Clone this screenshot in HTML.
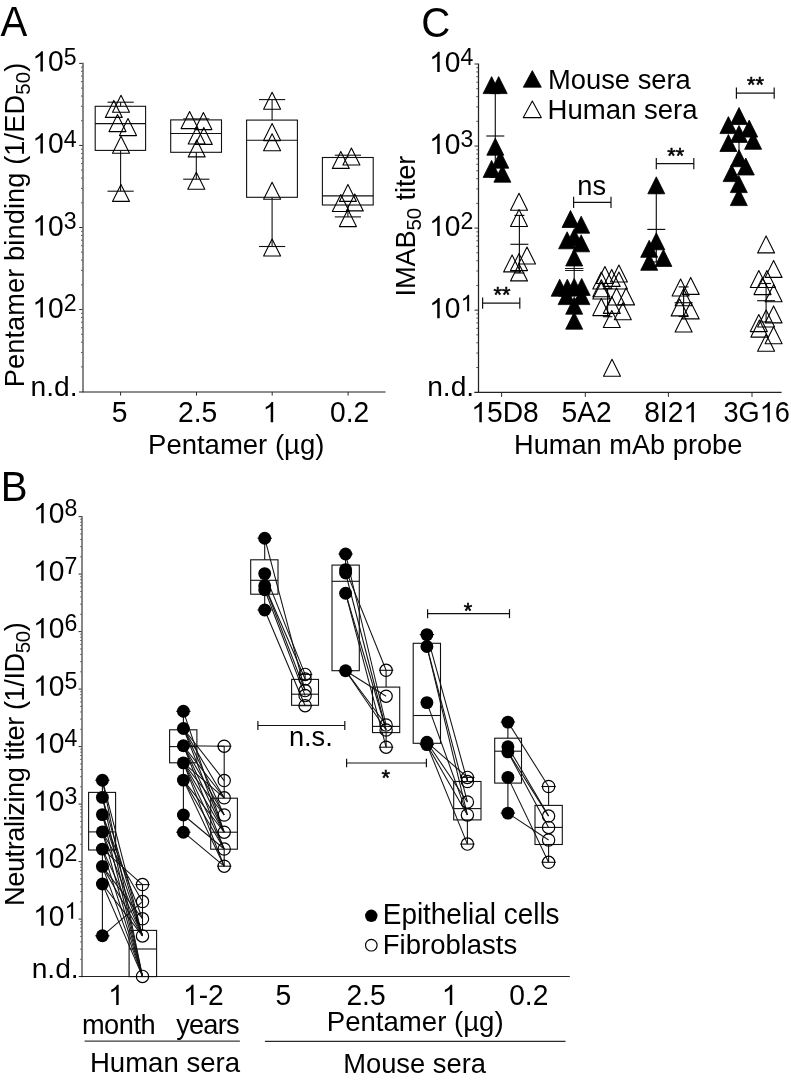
<!DOCTYPE html>
<html><head><meta charset="utf-8"><title>Figure</title>
<style>
html,body{margin:0;padding:0;background:#fff;}
body{width:791px;height:1082px;overflow:hidden;font-family:"Liberation Sans",sans-serif;}
svg{display:block;filter:grayscale(1);will-change:transform;transform:translateZ(0);}
svg text{font-family:"Liberation Sans",sans-serif;fill:#000;}
</style></head><body>
<svg width="791" height="1082" viewBox="0 0 791 1082">
<rect x="0" y="0" width="791" height="1082" fill="#fff"/>
<g id="panelA">
<text transform="translate(0.60,36.40) scale(1,1.04)" font-size="40.2" text-anchor="start" >A</text>
<line x1="83.00" y1="62.80" x2="83.00" y2="392.20" stroke="#1c1c1c" stroke-width="1.05"/>
<line x1="79.20" y1="63.40" x2="82.50" y2="63.40" stroke="#2a2a2a" stroke-width="1.0"/>
<line x1="79.20" y1="145.45" x2="82.50" y2="145.45" stroke="#2a2a2a" stroke-width="1.0"/>
<line x1="81.00" y1="120.75" x2="82.50" y2="120.75" stroke="#3a3a3a" stroke-width="0.85"/>
<line x1="81.00" y1="106.30" x2="82.50" y2="106.30" stroke="#3a3a3a" stroke-width="0.85"/>
<line x1="81.00" y1="96.05" x2="82.50" y2="96.05" stroke="#3a3a3a" stroke-width="0.85"/>
<line x1="81.00" y1="88.10" x2="82.50" y2="88.10" stroke="#3a3a3a" stroke-width="0.85"/>
<line x1="81.00" y1="81.60" x2="82.50" y2="81.60" stroke="#3a3a3a" stroke-width="0.85"/>
<line x1="81.00" y1="76.11" x2="82.50" y2="76.11" stroke="#3a3a3a" stroke-width="0.85"/>
<line x1="81.00" y1="71.35" x2="82.50" y2="71.35" stroke="#3a3a3a" stroke-width="0.85"/>
<line x1="81.00" y1="67.15" x2="82.50" y2="67.15" stroke="#3a3a3a" stroke-width="0.85"/>
<line x1="79.20" y1="227.50" x2="82.50" y2="227.50" stroke="#2a2a2a" stroke-width="1.0"/>
<line x1="81.00" y1="202.80" x2="82.50" y2="202.80" stroke="#3a3a3a" stroke-width="0.85"/>
<line x1="81.00" y1="188.35" x2="82.50" y2="188.35" stroke="#3a3a3a" stroke-width="0.85"/>
<line x1="81.00" y1="178.10" x2="82.50" y2="178.10" stroke="#3a3a3a" stroke-width="0.85"/>
<line x1="81.00" y1="170.15" x2="82.50" y2="170.15" stroke="#3a3a3a" stroke-width="0.85"/>
<line x1="81.00" y1="163.65" x2="82.50" y2="163.65" stroke="#3a3a3a" stroke-width="0.85"/>
<line x1="81.00" y1="158.16" x2="82.50" y2="158.16" stroke="#3a3a3a" stroke-width="0.85"/>
<line x1="81.00" y1="153.40" x2="82.50" y2="153.40" stroke="#3a3a3a" stroke-width="0.85"/>
<line x1="81.00" y1="149.20" x2="82.50" y2="149.20" stroke="#3a3a3a" stroke-width="0.85"/>
<line x1="79.20" y1="309.55" x2="82.50" y2="309.55" stroke="#2a2a2a" stroke-width="1.0"/>
<line x1="81.00" y1="284.85" x2="82.50" y2="284.85" stroke="#3a3a3a" stroke-width="0.85"/>
<line x1="81.00" y1="270.40" x2="82.50" y2="270.40" stroke="#3a3a3a" stroke-width="0.85"/>
<line x1="81.00" y1="260.15" x2="82.50" y2="260.15" stroke="#3a3a3a" stroke-width="0.85"/>
<line x1="81.00" y1="252.20" x2="82.50" y2="252.20" stroke="#3a3a3a" stroke-width="0.85"/>
<line x1="81.00" y1="245.70" x2="82.50" y2="245.70" stroke="#3a3a3a" stroke-width="0.85"/>
<line x1="81.00" y1="240.21" x2="82.50" y2="240.21" stroke="#3a3a3a" stroke-width="0.85"/>
<line x1="81.00" y1="235.45" x2="82.50" y2="235.45" stroke="#3a3a3a" stroke-width="0.85"/>
<line x1="81.00" y1="231.25" x2="82.50" y2="231.25" stroke="#3a3a3a" stroke-width="0.85"/>
<line x1="81.00" y1="366.90" x2="82.50" y2="366.90" stroke="#3a3a3a" stroke-width="0.85"/>
<line x1="81.00" y1="352.45" x2="82.50" y2="352.45" stroke="#3a3a3a" stroke-width="0.85"/>
<line x1="81.00" y1="342.20" x2="82.50" y2="342.20" stroke="#3a3a3a" stroke-width="0.85"/>
<line x1="81.00" y1="334.25" x2="82.50" y2="334.25" stroke="#3a3a3a" stroke-width="0.85"/>
<line x1="81.00" y1="327.75" x2="82.50" y2="327.75" stroke="#3a3a3a" stroke-width="0.85"/>
<line x1="81.00" y1="322.26" x2="82.50" y2="322.26" stroke="#3a3a3a" stroke-width="0.85"/>
<line x1="81.00" y1="317.50" x2="82.50" y2="317.50" stroke="#3a3a3a" stroke-width="0.85"/>
<line x1="81.00" y1="313.30" x2="82.50" y2="313.30" stroke="#3a3a3a" stroke-width="0.85"/>
<line x1="79.00" y1="392.00" x2="385.50" y2="392.00" stroke="#1c1c1c" stroke-width="1.05"/>
<path transform="translate(32.39,71.40) scale(0.01377,-0.01377)" d="M763 0H583V1147Q518 1085 412.5 1023T223 930V1104Q374 1175 487 1276T647 1472H763Z" fill="#000"/>
<text transform="translate(48.07,71.40) scale(1,1.04)" font-size="28.2" style="font-kerning:none">0</text>
<text transform="translate(63.75,64.54) scale(1,1.04)" font-size="23.1" style="font-kerning:none">5</text>
<path transform="translate(32.39,153.45) scale(0.01377,-0.01377)" d="M763 0H583V1147Q518 1085 412.5 1023T223 930V1104Q374 1175 487 1276T647 1472H763Z" fill="#000"/>
<text transform="translate(48.07,153.45) scale(1,1.04)" font-size="28.2" style="font-kerning:none">0</text>
<text transform="translate(63.75,146.59) scale(1,1.04)" font-size="23.1" style="font-kerning:none">4</text>
<path transform="translate(32.39,235.50) scale(0.01377,-0.01377)" d="M763 0H583V1147Q518 1085 412.5 1023T223 930V1104Q374 1175 487 1276T647 1472H763Z" fill="#000"/>
<text transform="translate(48.07,235.50) scale(1,1.04)" font-size="28.2" style="font-kerning:none">0</text>
<text transform="translate(63.75,228.64) scale(1,1.04)" font-size="23.1" style="font-kerning:none">3</text>
<path transform="translate(32.39,317.55) scale(0.01377,-0.01377)" d="M763 0H583V1147Q518 1085 412.5 1023T223 930V1104Q374 1175 487 1276T647 1472H763Z" fill="#000"/>
<text transform="translate(48.07,317.55) scale(1,1.04)" font-size="28.2" style="font-kerning:none">0</text>
<text transform="translate(63.75,310.69) scale(1,1.04)" font-size="23.1" style="font-kerning:none">2</text>
<text transform="translate(77.50,395.70) scale(1,1.0)" font-size="28.2" text-anchor="end" >n.d.</text>
<line x1="120.60" y1="392.00" x2="120.60" y2="395.60" stroke="#2a2a2a" stroke-width="1.0"/>
<text transform="translate(111.86,422.20) scale(1,1.04)" font-size="28.2" style="font-kerning:none">5</text>
<line x1="196.50" y1="392.00" x2="196.50" y2="395.60" stroke="#2a2a2a" stroke-width="1.0"/>
<text transform="translate(178.10,422.20) scale(1,1.04)" font-size="28.2" style="font-kerning:none">2.5</text>
<line x1="272.20" y1="392.00" x2="272.20" y2="395.60" stroke="#2a2a2a" stroke-width="1.0"/>
<path transform="translate(262.66,422.20) scale(0.01377,-0.01377)" d="M763 0H583V1147Q518 1085 412.5 1023T223 930V1104Q374 1175 487 1276T647 1472H763Z" fill="#000"/>
<line x1="348.10" y1="392.00" x2="348.10" y2="395.60" stroke="#2a2a2a" stroke-width="1.0"/>
<text transform="translate(330.10,422.20) scale(1,1.04)" font-size="28.2" style="font-kerning:none">0.2</text>
<text transform="translate(236.20,454.40) scale(1,1.03)" font-size="27.5" text-anchor="middle" >Pentamer (µg)</text>
<text transform="translate(24.0,387.3) rotate(-90)" font-size="27.2" textLength="324.6" lengthAdjust="spacing">Pentamer binding (1/ED<tspan font-size="20.5" dy="5.5">50</tspan><tspan dy="-5.5">)</tspan></text>
<rect x="95.20" y="106.30" width="50.40" height="44.10" fill="none" stroke="#111" stroke-width="1.1"/>
<line x1="95.20" y1="123.60" x2="145.60" y2="123.60" stroke="#111" stroke-width="1.1"/>
<line x1="120.60" y1="102.20" x2="120.60" y2="106.30" stroke="#111" stroke-width="1.1"/>
<line x1="120.60" y1="150.40" x2="120.60" y2="191.20" stroke="#111" stroke-width="1.1"/>
<line x1="107.50" y1="102.20" x2="133.70" y2="102.20" stroke="#111" stroke-width="1.1"/>
<line x1="107.50" y1="191.20" x2="133.70" y2="191.20" stroke="#111" stroke-width="1.1"/>
<rect x="170.70" y="119.90" width="50.80" height="32.40" fill="none" stroke="#111" stroke-width="1.1"/>
<line x1="170.70" y1="133.50" x2="221.50" y2="133.50" stroke="#111" stroke-width="1.1"/>
<line x1="196.30" y1="118.90" x2="196.30" y2="119.90" stroke="#111" stroke-width="1.1"/>
<line x1="196.30" y1="152.30" x2="196.30" y2="179.20" stroke="#111" stroke-width="1.1"/>
<line x1="183.20" y1="118.90" x2="209.40" y2="118.90" stroke="#111" stroke-width="1.1"/>
<line x1="183.20" y1="179.20" x2="209.40" y2="179.20" stroke="#111" stroke-width="1.1"/>
<rect x="246.60" y="120.10" width="50.80" height="77.20" fill="none" stroke="#111" stroke-width="1.1"/>
<line x1="246.60" y1="140.30" x2="297.40" y2="140.30" stroke="#111" stroke-width="1.1"/>
<line x1="272.10" y1="99.60" x2="272.10" y2="120.10" stroke="#111" stroke-width="1.1"/>
<line x1="272.10" y1="197.30" x2="272.10" y2="246.50" stroke="#111" stroke-width="1.1"/>
<line x1="259.00" y1="99.60" x2="285.20" y2="99.60" stroke="#111" stroke-width="1.1"/>
<line x1="259.00" y1="246.50" x2="285.20" y2="246.50" stroke="#111" stroke-width="1.1"/>
<rect x="322.40" y="157.50" width="50.80" height="47.50" fill="none" stroke="#111" stroke-width="1.1"/>
<line x1="322.40" y1="195.90" x2="373.20" y2="195.90" stroke="#111" stroke-width="1.1"/>
<line x1="347.90" y1="155.20" x2="347.90" y2="157.50" stroke="#111" stroke-width="1.1"/>
<line x1="347.90" y1="205.00" x2="347.90" y2="216.90" stroke="#111" stroke-width="1.1"/>
<line x1="334.80" y1="155.20" x2="361.00" y2="155.20" stroke="#111" stroke-width="1.1"/>
<line x1="334.80" y1="216.90" x2="361.00" y2="216.90" stroke="#111" stroke-width="1.1"/>
<polygon points="121.00,95.30 129.50,112.30 112.50,112.30" fill="none" stroke="#000" stroke-width="1.08" stroke-linejoin="round"/>
<polygon points="113.80,100.40 122.30,117.40 105.30,117.40" fill="none" stroke="#000" stroke-width="1.08" stroke-linejoin="round"/>
<polygon points="117.50,114.60 126.00,131.60 109.00,131.60" fill="none" stroke="#000" stroke-width="1.08" stroke-linejoin="round"/>
<polygon points="128.00,118.60 136.50,135.60 119.50,135.60" fill="none" stroke="#000" stroke-width="1.08" stroke-linejoin="round"/>
<polygon points="121.00,136.30 129.50,153.30 112.50,153.30" fill="none" stroke="#000" stroke-width="1.08" stroke-linejoin="round"/>
<polygon points="121.00,184.40 129.50,201.40 112.50,201.40" fill="none" stroke="#000" stroke-width="1.08" stroke-linejoin="round"/>
<polygon points="189.60,111.60 198.10,128.60 181.10,128.60" fill="none" stroke="#000" stroke-width="1.08" stroke-linejoin="round"/>
<polygon points="203.40,112.60 211.90,129.60 194.90,129.60" fill="none" stroke="#000" stroke-width="1.08" stroke-linejoin="round"/>
<polygon points="196.70,127.00 205.20,144.00 188.20,144.00" fill="none" stroke="#000" stroke-width="1.08" stroke-linejoin="round"/>
<polygon points="203.80,127.40 212.30,144.40 195.30,144.40" fill="none" stroke="#000" stroke-width="1.08" stroke-linejoin="round"/>
<polygon points="196.70,139.90 205.20,156.90 188.20,156.90" fill="none" stroke="#000" stroke-width="1.08" stroke-linejoin="round"/>
<polygon points="196.30,172.20 204.80,189.20 187.80,189.20" fill="none" stroke="#000" stroke-width="1.08" stroke-linejoin="round"/>
<polygon points="272.10,92.30 280.60,109.30 263.60,109.30" fill="none" stroke="#000" stroke-width="1.08" stroke-linejoin="round"/>
<polygon points="272.10,123.60 280.60,140.60 263.60,140.60" fill="none" stroke="#000" stroke-width="1.08" stroke-linejoin="round"/>
<polygon points="272.10,133.80 280.60,150.80 263.60,150.80" fill="none" stroke="#000" stroke-width="1.08" stroke-linejoin="round"/>
<polygon points="272.10,182.30 280.60,199.30 263.60,199.30" fill="none" stroke="#000" stroke-width="1.08" stroke-linejoin="round"/>
<polygon points="272.10,239.00 280.60,256.00 263.60,256.00" fill="none" stroke="#000" stroke-width="1.08" stroke-linejoin="round"/>
<polygon points="340.80,151.40 349.30,168.40 332.30,168.40" fill="none" stroke="#000" stroke-width="1.08" stroke-linejoin="round"/>
<polygon points="351.40,148.00 359.90,165.00 342.90,165.00" fill="none" stroke="#000" stroke-width="1.08" stroke-linejoin="round"/>
<polygon points="347.90,184.40 356.40,201.40 339.40,201.40" fill="none" stroke="#000" stroke-width="1.08" stroke-linejoin="round"/>
<polygon points="340.80,194.50 349.30,211.50 332.30,211.50" fill="none" stroke="#000" stroke-width="1.08" stroke-linejoin="round"/>
<polygon points="354.80,193.90 363.30,210.90 346.30,210.90" fill="none" stroke="#000" stroke-width="1.08" stroke-linejoin="round"/>
<polygon points="347.90,209.60 356.40,226.60 339.40,226.60" fill="none" stroke="#000" stroke-width="1.08" stroke-linejoin="round"/>
</g>
<g id="panelC">
<text transform="translate(421.20,37.40) scale(1,1.04)" font-size="40.2" text-anchor="start" >C</text>
<line x1="478.50" y1="63.40" x2="478.50" y2="392.80" stroke="#222" stroke-width="1.25"/>
<line x1="474.50" y1="64.00" x2="478.00" y2="64.00" stroke="#2a2a2a" stroke-width="1.0"/>
<line x1="474.50" y1="146.05" x2="478.00" y2="146.05" stroke="#2a2a2a" stroke-width="1.0"/>
<line x1="476.30" y1="121.35" x2="478.00" y2="121.35" stroke="#3a3a3a" stroke-width="0.85"/>
<line x1="476.30" y1="106.90" x2="478.00" y2="106.90" stroke="#3a3a3a" stroke-width="0.85"/>
<line x1="476.30" y1="96.65" x2="478.00" y2="96.65" stroke="#3a3a3a" stroke-width="0.85"/>
<line x1="476.30" y1="88.70" x2="478.00" y2="88.70" stroke="#3a3a3a" stroke-width="0.85"/>
<line x1="476.30" y1="82.20" x2="478.00" y2="82.20" stroke="#3a3a3a" stroke-width="0.85"/>
<line x1="476.30" y1="76.71" x2="478.00" y2="76.71" stroke="#3a3a3a" stroke-width="0.85"/>
<line x1="476.30" y1="71.95" x2="478.00" y2="71.95" stroke="#3a3a3a" stroke-width="0.85"/>
<line x1="476.30" y1="67.75" x2="478.00" y2="67.75" stroke="#3a3a3a" stroke-width="0.85"/>
<line x1="474.50" y1="228.10" x2="478.00" y2="228.10" stroke="#2a2a2a" stroke-width="1.0"/>
<line x1="476.30" y1="203.40" x2="478.00" y2="203.40" stroke="#3a3a3a" stroke-width="0.85"/>
<line x1="476.30" y1="188.95" x2="478.00" y2="188.95" stroke="#3a3a3a" stroke-width="0.85"/>
<line x1="476.30" y1="178.70" x2="478.00" y2="178.70" stroke="#3a3a3a" stroke-width="0.85"/>
<line x1="476.30" y1="170.75" x2="478.00" y2="170.75" stroke="#3a3a3a" stroke-width="0.85"/>
<line x1="476.30" y1="164.25" x2="478.00" y2="164.25" stroke="#3a3a3a" stroke-width="0.85"/>
<line x1="476.30" y1="158.76" x2="478.00" y2="158.76" stroke="#3a3a3a" stroke-width="0.85"/>
<line x1="476.30" y1="154.00" x2="478.00" y2="154.00" stroke="#3a3a3a" stroke-width="0.85"/>
<line x1="476.30" y1="149.80" x2="478.00" y2="149.80" stroke="#3a3a3a" stroke-width="0.85"/>
<line x1="474.50" y1="310.15" x2="478.00" y2="310.15" stroke="#2a2a2a" stroke-width="1.0"/>
<line x1="476.30" y1="285.45" x2="478.00" y2="285.45" stroke="#3a3a3a" stroke-width="0.85"/>
<line x1="476.30" y1="271.00" x2="478.00" y2="271.00" stroke="#3a3a3a" stroke-width="0.85"/>
<line x1="476.30" y1="260.75" x2="478.00" y2="260.75" stroke="#3a3a3a" stroke-width="0.85"/>
<line x1="476.30" y1="252.80" x2="478.00" y2="252.80" stroke="#3a3a3a" stroke-width="0.85"/>
<line x1="476.30" y1="246.30" x2="478.00" y2="246.30" stroke="#3a3a3a" stroke-width="0.85"/>
<line x1="476.30" y1="240.81" x2="478.00" y2="240.81" stroke="#3a3a3a" stroke-width="0.85"/>
<line x1="476.30" y1="236.05" x2="478.00" y2="236.05" stroke="#3a3a3a" stroke-width="0.85"/>
<line x1="476.30" y1="231.85" x2="478.00" y2="231.85" stroke="#3a3a3a" stroke-width="0.85"/>
<line x1="476.30" y1="367.50" x2="478.00" y2="367.50" stroke="#3a3a3a" stroke-width="0.85"/>
<line x1="476.30" y1="353.05" x2="478.00" y2="353.05" stroke="#3a3a3a" stroke-width="0.85"/>
<line x1="476.30" y1="342.80" x2="478.00" y2="342.80" stroke="#3a3a3a" stroke-width="0.85"/>
<line x1="476.30" y1="334.85" x2="478.00" y2="334.85" stroke="#3a3a3a" stroke-width="0.85"/>
<line x1="476.30" y1="328.35" x2="478.00" y2="328.35" stroke="#3a3a3a" stroke-width="0.85"/>
<line x1="476.30" y1="322.86" x2="478.00" y2="322.86" stroke="#3a3a3a" stroke-width="0.85"/>
<line x1="476.30" y1="318.10" x2="478.00" y2="318.10" stroke="#3a3a3a" stroke-width="0.85"/>
<line x1="476.30" y1="313.90" x2="478.00" y2="313.90" stroke="#3a3a3a" stroke-width="0.85"/>
<line x1="474.30" y1="392.45" x2="781.60" y2="392.45" stroke="#222" stroke-width="1.2"/>
<path transform="translate(429.19,72.00) scale(0.01377,-0.01377)" d="M763 0H583V1147Q518 1085 412.5 1023T223 930V1104Q374 1175 487 1276T647 1472H763Z" fill="#000"/>
<text transform="translate(444.87,72.00) scale(1,1.04)" font-size="28.2" style="font-kerning:none">0</text>
<text transform="translate(460.55,65.14) scale(1,1.04)" font-size="23.1" style="font-kerning:none">4</text>
<path transform="translate(429.19,154.05) scale(0.01377,-0.01377)" d="M763 0H583V1147Q518 1085 412.5 1023T223 930V1104Q374 1175 487 1276T647 1472H763Z" fill="#000"/>
<text transform="translate(444.87,154.05) scale(1,1.04)" font-size="28.2" style="font-kerning:none">0</text>
<text transform="translate(460.55,147.19) scale(1,1.04)" font-size="23.1" style="font-kerning:none">3</text>
<path transform="translate(429.19,236.10) scale(0.01377,-0.01377)" d="M763 0H583V1147Q518 1085 412.5 1023T223 930V1104Q374 1175 487 1276T647 1472H763Z" fill="#000"/>
<text transform="translate(444.87,236.10) scale(1,1.04)" font-size="28.2" style="font-kerning:none">0</text>
<text transform="translate(460.55,229.24) scale(1,1.04)" font-size="23.1" style="font-kerning:none">2</text>
<path transform="translate(429.19,318.15) scale(0.01377,-0.01377)" d="M763 0H583V1147Q518 1085 412.5 1023T223 930V1104Q374 1175 487 1276T647 1472H763Z" fill="#000"/>
<text transform="translate(444.87,318.15) scale(1,1.04)" font-size="28.2" style="font-kerning:none">0</text>
<path transform="translate(460.55,311.29) scale(0.01128,-0.01128)" d="M763 0H583V1147Q518 1085 412.5 1023T223 930V1104Q374 1175 487 1276T647 1472H763Z" fill="#000"/>
<text transform="translate(474.20,396.00) scale(1,1.0)" font-size="28.2" text-anchor="end" >n.d.</text>
<line x1="501.60" y1="392.40" x2="501.60" y2="396.90" stroke="#2a2a2a" stroke-width="1.0"/>
<line x1="585.30" y1="392.40" x2="585.30" y2="396.90" stroke="#2a2a2a" stroke-width="1.0"/>
<line x1="668.40" y1="392.40" x2="668.40" y2="396.90" stroke="#2a2a2a" stroke-width="1.0"/>
<line x1="752.00" y1="392.40" x2="752.00" y2="396.90" stroke="#2a2a2a" stroke-width="1.0"/>
<path transform="translate(471.29,422.20) scale(0.01377,-0.01377)" d="M763 0H583V1147Q518 1085 412.5 1023T223 930V1104Q374 1175 487 1276T647 1472H763Z" fill="#000"/>
<text transform="translate(486.98,422.20) scale(1,1.04)" font-size="28.2" style="font-kerning:none">5D8</text>
<text transform="translate(561.51,422.20) scale(1,1.04)" font-size="28.2" style="font-kerning:none">5A2</text>
<text transform="translate(644.16,422.20) scale(1,1.04)" font-size="28.2" style="font-kerning:none">8I2</text>
<path transform="translate(683.36,422.20) scale(0.01377,-0.01377)" d="M763 0H583V1147Q518 1085 412.5 1023T223 930V1104Q374 1175 487 1276T647 1472H763Z" fill="#000"/>
<g transform="translate(723.50,0) scale(0.963,1) translate(-723.50,0)">
<text transform="translate(723.50,422.20) scale(1,1.04)" font-size="28.2" style="font-kerning:none">3G</text>
<path transform="translate(761.12,422.20) scale(0.01377,-0.01377)" d="M763 0H583V1147Q518 1085 412.5 1023T223 930V1104Q374 1175 487 1276T647 1472H763Z" fill="#000"/>
<text transform="translate(776.80,422.20) scale(1,1.04)" font-size="28.2" style="font-kerning:none">6</text>
</g>
<text transform="translate(628.20,454.00) scale(1,1.03)" font-size="27.2" text-anchor="middle" >Human mAb probe</text>
<text transform="translate(415.1,296.4) rotate(-90)" font-size="27.2" textLength="140.8" lengthAdjust="spacing">IMAB<tspan font-size="20.5" dy="5.5">50</tspan><tspan dy="-5.5"> titer</tspan></text>
<polygon points="532.30,70.60 541.30,87.20 523.30,87.20" fill="#000" stroke="#000" stroke-width="0.8" stroke-linejoin="miter"/>
<polygon points="532.30,101.00 541.30,117.60 523.30,117.60" fill="none" stroke="#000" stroke-width="1.08" stroke-linejoin="round"/>
<text transform="translate(548.00,89.20) scale(1,1.03)" font-size="27.35" text-anchor="start" >Mouse sera</text>
<text transform="translate(547.60,118.50) scale(1,1.03)" font-size="27.55" text-anchor="start" >Human sera</text>
<line x1="482.60" y1="303.05" x2="519.80" y2="303.05" stroke="#111" stroke-width="1.2"/>
<line x1="482.60" y1="297.45" x2="482.60" y2="308.65" stroke="#111" stroke-width="1.2"/>
<line x1="519.80" y1="297.45" x2="519.80" y2="308.65" stroke="#111" stroke-width="1.2"/>
<text x="501.90" y="301.50" font-size="21.8" text-anchor="middle" stroke="#000" stroke-width="0.55">**</text>
<line x1="573.60" y1="202.30" x2="611.00" y2="202.30" stroke="#111" stroke-width="1.2"/>
<line x1="573.60" y1="196.70" x2="573.60" y2="207.90" stroke="#111" stroke-width="1.2"/>
<line x1="611.00" y1="196.70" x2="611.00" y2="207.90" stroke="#111" stroke-width="1.2"/>
<text transform="translate(591.70,194.50) scale(1,1.0)" font-size="27.2" text-anchor="middle" >ns</text>
<line x1="656.30" y1="163.70" x2="693.80" y2="163.70" stroke="#111" stroke-width="1.2"/>
<line x1="656.30" y1="158.10" x2="656.30" y2="169.30" stroke="#111" stroke-width="1.2"/>
<line x1="693.80" y1="158.10" x2="693.80" y2="169.30" stroke="#111" stroke-width="1.2"/>
<text x="675.80" y="162.50" font-size="21.8" text-anchor="middle" stroke="#000" stroke-width="0.55">**</text>
<line x1="736.40" y1="93.10" x2="774.20" y2="93.10" stroke="#111" stroke-width="1.2"/>
<line x1="736.40" y1="87.50" x2="736.40" y2="98.70" stroke="#111" stroke-width="1.2"/>
<line x1="774.20" y1="87.50" x2="774.20" y2="98.70" stroke="#111" stroke-width="1.2"/>
<text x="755.50" y="92.30" font-size="21.8" text-anchor="middle" stroke="#000" stroke-width="0.55">**</text>
<line x1="495.30" y1="93.00" x2="495.30" y2="177.40" stroke="#111" stroke-width="1.15"/>
<line x1="486.30" y1="136.00" x2="504.30" y2="136.00" stroke="#111" stroke-width="1.15"/>
<line x1="490.30" y1="93.00" x2="500.30" y2="93.00" stroke="#111" stroke-width="1.15"/>
<line x1="490.30" y1="177.40" x2="500.30" y2="177.40" stroke="#111" stroke-width="1.15"/>
<polygon points="491.60,76.60 500.10,93.60 483.10,93.60" fill="#000" stroke="#000" stroke-width="0.8" stroke-linejoin="miter"/>
<polygon points="498.70,76.60 507.20,93.60 490.20,93.60" fill="#000" stroke="#000" stroke-width="0.8" stroke-linejoin="miter"/>
<polygon points="495.30,138.20 503.80,155.20 486.80,155.20" fill="#000" stroke="#000" stroke-width="0.8" stroke-linejoin="miter"/>
<polygon points="500.30,151.20 508.80,168.20 491.80,168.20" fill="#000" stroke="#000" stroke-width="0.8" stroke-linejoin="miter"/>
<polygon points="491.60,160.40 500.10,177.40 483.10,177.40" fill="#000" stroke="#000" stroke-width="0.8" stroke-linejoin="miter"/>
<polygon points="502.40,165.20 510.90,182.20 493.90,182.20" fill="#000" stroke="#000" stroke-width="0.8" stroke-linejoin="miter"/>
<line x1="519.40" y1="215.40" x2="519.40" y2="273.00" stroke="#111" stroke-width="1.15"/>
<line x1="510.40" y1="244.30" x2="528.40" y2="244.30" stroke="#111" stroke-width="1.15"/>
<line x1="514.40" y1="215.40" x2="524.40" y2="215.40" stroke="#111" stroke-width="1.15"/>
<line x1="514.40" y1="273.00" x2="524.40" y2="273.00" stroke="#111" stroke-width="1.15"/>
<polygon points="519.00,193.30 527.50,210.30 510.50,210.30" fill="none" stroke="#000" stroke-width="1.08" stroke-linejoin="round"/>
<polygon points="519.00,209.50 527.50,226.50 510.50,226.50" fill="none" stroke="#000" stroke-width="1.08" stroke-linejoin="round"/>
<polygon points="527.00,247.00 535.50,264.00 518.50,264.00" fill="none" stroke="#000" stroke-width="1.08" stroke-linejoin="round"/>
<polygon points="512.10,254.90 520.60,271.90 503.60,271.90" fill="none" stroke="#000" stroke-width="1.08" stroke-linejoin="round"/>
<polygon points="519.00,253.60 527.50,270.60 510.50,270.60" fill="none" stroke="#000" stroke-width="1.08" stroke-linejoin="round"/>
<polygon points="519.00,263.90 527.50,280.90 510.50,280.90" fill="none" stroke="#000" stroke-width="1.08" stroke-linejoin="round"/>
<line x1="574.20" y1="251.00" x2="574.20" y2="290.00" stroke="#111" stroke-width="1.15"/>
<line x1="565.00" y1="268.50" x2="583.40" y2="268.50" stroke="#111" stroke-width="0.95"/>
<line x1="565.00" y1="270.50" x2="583.40" y2="270.50" stroke="#111" stroke-width="0.95"/>
<polygon points="570.50,210.50 579.00,227.50 562.00,227.50" fill="#000" stroke="#000" stroke-width="0.8" stroke-linejoin="miter"/>
<polygon points="581.20,216.20 589.70,233.20 572.70,233.20" fill="#000" stroke="#000" stroke-width="0.8" stroke-linejoin="miter"/>
<polygon points="567.10,231.80 575.60,248.80 558.60,248.80" fill="#000" stroke="#000" stroke-width="0.8" stroke-linejoin="miter"/>
<polygon points="574.20,228.70 582.70,245.70 565.70,245.70" fill="#000" stroke="#000" stroke-width="0.8" stroke-linejoin="miter"/>
<polygon points="581.20,234.80 589.70,251.80 572.70,251.80" fill="#000" stroke="#000" stroke-width="0.8" stroke-linejoin="miter"/>
<polygon points="574.20,249.00 582.70,266.00 565.70,266.00" fill="#000" stroke="#000" stroke-width="0.8" stroke-linejoin="miter"/>
<polygon points="559.70,279.20 568.20,296.20 551.20,296.20" fill="#000" stroke="#000" stroke-width="0.8" stroke-linejoin="miter"/>
<polygon points="567.30,279.20 575.80,296.20 558.80,296.20" fill="#000" stroke="#000" stroke-width="0.8" stroke-linejoin="miter"/>
<polygon points="574.20,278.40 582.70,295.40 565.70,295.40" fill="#000" stroke="#000" stroke-width="0.8" stroke-linejoin="miter"/>
<polygon points="581.70,278.40 590.20,295.40 573.20,295.40" fill="#000" stroke="#000" stroke-width="0.8" stroke-linejoin="miter"/>
<polygon points="566.60,287.60 575.10,304.60 558.10,304.60" fill="#000" stroke="#000" stroke-width="0.8" stroke-linejoin="miter"/>
<polygon points="581.40,287.60 589.90,304.60 572.90,304.60" fill="#000" stroke="#000" stroke-width="0.8" stroke-linejoin="miter"/>
<polygon points="574.20,297.20 582.70,314.20 565.70,314.20" fill="#000" stroke="#000" stroke-width="0.8" stroke-linejoin="miter"/>
<polygon points="574.20,312.20 582.70,329.20 565.70,329.20" fill="#000" stroke="#000" stroke-width="0.8" stroke-linejoin="miter"/>
<line x1="607.60" y1="288.50" x2="607.60" y2="316.70" stroke="#111" stroke-width="1.15"/>
<line x1="607.60" y1="298.30" x2="607.60" y2="298.30" stroke="#111" stroke-width="1.15"/>
<line x1="602.80" y1="288.50" x2="612.40" y2="288.50" stroke="#111" stroke-width="1.15"/>
<line x1="602.80" y1="316.70" x2="612.40" y2="316.70" stroke="#111" stroke-width="1.15"/>
<polygon points="604.90,266.50 613.40,283.50 596.40,283.50" fill="none" stroke="#000" stroke-width="1.08" stroke-linejoin="round"/>
<polygon points="611.70,269.40 620.20,286.40 603.20,286.40" fill="none" stroke="#000" stroke-width="1.08" stroke-linejoin="round"/>
<polygon points="618.90,265.00 627.40,282.00 610.40,282.00" fill="none" stroke="#000" stroke-width="1.08" stroke-linejoin="round"/>
<polygon points="601.30,272.00 609.80,289.00 592.80,289.00" fill="none" stroke="#000" stroke-width="1.08" stroke-linejoin="round"/>
<polygon points="618.90,272.00 627.40,289.00 610.40,289.00" fill="none" stroke="#000" stroke-width="1.08" stroke-linejoin="round"/>
<polygon points="601.30,279.80 609.80,296.80 592.80,296.80" fill="none" stroke="#000" stroke-width="1.08" stroke-linejoin="round"/>
<polygon points="601.30,282.00 609.80,299.00 592.80,299.00" fill="none" stroke="#000" stroke-width="1.08" stroke-linejoin="round"/>
<polygon points="626.10,287.90 634.60,304.90 617.60,304.90" fill="none" stroke="#000" stroke-width="1.08" stroke-linejoin="round"/>
<polygon points="616.50,288.00 625.00,305.00 608.00,305.00" fill="none" stroke="#000" stroke-width="1.08" stroke-linejoin="round"/>
<polygon points="601.30,298.60 609.80,315.60 592.80,315.60" fill="none" stroke="#000" stroke-width="1.08" stroke-linejoin="round"/>
<polygon points="611.80,296.40 620.30,313.40 603.30,313.40" fill="none" stroke="#000" stroke-width="1.08" stroke-linejoin="round"/>
<polygon points="622.80,302.70 631.30,319.70 614.30,319.70" fill="none" stroke="#000" stroke-width="1.08" stroke-linejoin="round"/>
<polygon points="611.80,310.50 620.30,327.50 603.30,327.50" fill="none" stroke="#000" stroke-width="1.08" stroke-linejoin="round"/>
<polygon points="612.00,359.30 620.50,376.30 603.50,376.30" fill="none" stroke="#000" stroke-width="1.08" stroke-linejoin="round"/>
<line x1="656.30" y1="193.00" x2="656.30" y2="262.00" stroke="#111" stroke-width="1.15"/>
<line x1="647.30" y1="229.40" x2="665.30" y2="229.40" stroke="#111" stroke-width="1.15"/>
<line x1="651.30" y1="193.00" x2="661.30" y2="193.00" stroke="#111" stroke-width="1.15"/>
<line x1="651.30" y1="262.00" x2="661.30" y2="262.00" stroke="#111" stroke-width="1.15"/>
<polygon points="656.30,176.80 664.80,193.80 647.80,193.80" fill="#000" stroke="#000" stroke-width="0.8" stroke-linejoin="miter"/>
<polygon points="656.30,232.80 664.80,249.80 647.80,249.80" fill="#000" stroke="#000" stroke-width="0.8" stroke-linejoin="miter"/>
<polygon points="649.20,240.30 657.70,257.30 640.70,257.30" fill="#000" stroke="#000" stroke-width="0.8" stroke-linejoin="miter"/>
<polygon points="663.40,249.40 671.90,266.40 654.90,266.40" fill="#000" stroke="#000" stroke-width="0.8" stroke-linejoin="miter"/>
<polygon points="649.20,253.30 657.70,270.30 640.70,270.30" fill="#000" stroke="#000" stroke-width="0.8" stroke-linejoin="miter"/>
<line x1="683.60" y1="286.90" x2="683.60" y2="316.50" stroke="#111" stroke-width="1.15"/>
<line x1="674.60" y1="302.70" x2="692.60" y2="302.70" stroke="#111" stroke-width="1.15"/>
<line x1="678.60" y1="286.90" x2="688.60" y2="286.90" stroke="#111" stroke-width="1.15"/>
<line x1="678.60" y1="316.50" x2="688.60" y2="316.50" stroke="#111" stroke-width="1.15"/>
<polygon points="680.60,279.00 689.10,296.00 672.10,296.00" fill="none" stroke="#000" stroke-width="1.08" stroke-linejoin="round"/>
<polygon points="690.70,277.40 699.20,294.40 682.20,294.40" fill="none" stroke="#000" stroke-width="1.08" stroke-linejoin="round"/>
<polygon points="683.60,288.70 692.10,305.70 675.10,305.70" fill="none" stroke="#000" stroke-width="1.08" stroke-linejoin="round"/>
<polygon points="679.60,298.90 688.10,315.90 671.10,315.90" fill="none" stroke="#000" stroke-width="1.08" stroke-linejoin="round"/>
<polygon points="690.70,301.90 699.20,318.90 682.20,318.90" fill="none" stroke="#000" stroke-width="1.08" stroke-linejoin="round"/>
<polygon points="683.60,315.00 692.10,332.00 675.10,332.00" fill="none" stroke="#000" stroke-width="1.08" stroke-linejoin="round"/>
<line x1="739.00" y1="128.00" x2="739.00" y2="166.00" stroke="#111" stroke-width="1.1"/>
<polygon points="739.00,107.50 747.50,124.50 730.50,124.50" fill="#000" stroke="#000" stroke-width="0.8" stroke-linejoin="miter"/>
<polygon points="728.40,116.60 736.90,133.60 719.90,133.60" fill="#000" stroke="#000" stroke-width="0.8" stroke-linejoin="miter"/>
<polygon points="749.20,120.10 757.70,137.10 740.70,137.10" fill="#000" stroke="#000" stroke-width="0.8" stroke-linejoin="miter"/>
<polygon points="739.00,125.40 747.50,142.40 730.50,142.40" fill="#000" stroke="#000" stroke-width="0.8" stroke-linejoin="miter"/>
<polygon points="728.40,134.50 736.90,151.50 719.90,151.50" fill="#000" stroke="#000" stroke-width="0.8" stroke-linejoin="miter"/>
<polygon points="753.10,132.30 761.60,149.30 744.60,149.30" fill="#000" stroke="#000" stroke-width="0.8" stroke-linejoin="miter"/>
<polygon points="739.00,149.70 747.50,166.70 730.50,166.70" fill="#000" stroke="#000" stroke-width="0.8" stroke-linejoin="miter"/>
<polygon points="745.80,158.00 754.30,175.00 737.30,175.00" fill="#000" stroke="#000" stroke-width="0.8" stroke-linejoin="miter"/>
<polygon points="731.60,164.60 740.10,181.60 723.10,181.60" fill="#000" stroke="#000" stroke-width="0.8" stroke-linejoin="miter"/>
<polygon points="738.80,175.60 747.30,192.60 730.30,192.60" fill="#000" stroke="#000" stroke-width="0.8" stroke-linejoin="miter"/>
<polygon points="738.80,188.60 747.30,205.60 730.30,205.60" fill="#000" stroke="#000" stroke-width="0.8" stroke-linejoin="miter"/>
<line x1="766.10" y1="283.50" x2="766.10" y2="321.90" stroke="#111" stroke-width="1.15"/>
<line x1="757.10" y1="300.70" x2="775.10" y2="300.70" stroke="#111" stroke-width="1.15"/>
<line x1="761.10" y1="283.50" x2="771.10" y2="283.50" stroke="#111" stroke-width="1.15"/>
<line x1="761.10" y1="321.90" x2="771.10" y2="321.90" stroke="#111" stroke-width="1.15"/>
<polygon points="766.10,235.90 774.60,252.90 757.60,252.90" fill="none" stroke="#000" stroke-width="1.08" stroke-linejoin="round"/>
<polygon points="773.60,260.40 782.10,277.40 765.10,277.40" fill="none" stroke="#000" stroke-width="1.08" stroke-linejoin="round"/>
<polygon points="758.80,270.50 767.30,287.50 750.30,287.50" fill="none" stroke="#000" stroke-width="1.08" stroke-linejoin="round"/>
<polygon points="766.90,270.50 775.40,287.50 758.40,287.50" fill="none" stroke="#000" stroke-width="1.08" stroke-linejoin="round"/>
<polygon points="762.50,277.60 771.00,294.60 754.00,294.60" fill="none" stroke="#000" stroke-width="1.08" stroke-linejoin="round"/>
<polygon points="773.60,284.70 782.10,301.70 765.10,301.70" fill="none" stroke="#000" stroke-width="1.08" stroke-linejoin="round"/>
<polygon points="773.60,305.90 782.10,322.90 765.10,322.90" fill="none" stroke="#000" stroke-width="1.08" stroke-linejoin="round"/>
<polygon points="766.10,310.00 774.60,327.00 757.60,327.00" fill="none" stroke="#000" stroke-width="1.08" stroke-linejoin="round"/>
<polygon points="758.80,314.60 767.30,331.60 750.30,331.60" fill="none" stroke="#000" stroke-width="1.08" stroke-linejoin="round"/>
<polygon points="759.40,320.10 767.90,337.10 750.90,337.10" fill="none" stroke="#000" stroke-width="1.08" stroke-linejoin="round"/>
<polygon points="773.60,326.80 782.10,343.80 765.10,343.80" fill="none" stroke="#000" stroke-width="1.08" stroke-linejoin="round"/>
<polygon points="766.10,334.30 774.60,351.30 757.60,351.30" fill="none" stroke="#000" stroke-width="1.08" stroke-linejoin="round"/>
</g>
<g id="panelB">
<text transform="translate(0.80,501.20) scale(1,1.04)" font-size="40.2" text-anchor="start" >B</text>
<line x1="82.00" y1="516.00" x2="82.00" y2="977.20" stroke="#1c1c1c" stroke-width="1.05"/>
<line x1="78.60" y1="516.60" x2="81.50" y2="516.60" stroke="#2a2a2a" stroke-width="1.0"/>
<line x1="78.60" y1="574.10" x2="81.50" y2="574.10" stroke="#2a2a2a" stroke-width="1.0"/>
<line x1="80.20" y1="556.79" x2="81.50" y2="556.79" stroke="#3a3a3a" stroke-width="0.85"/>
<line x1="80.20" y1="546.67" x2="81.50" y2="546.67" stroke="#3a3a3a" stroke-width="0.85"/>
<line x1="80.20" y1="539.48" x2="81.50" y2="539.48" stroke="#3a3a3a" stroke-width="0.85"/>
<line x1="80.20" y1="533.91" x2="81.50" y2="533.91" stroke="#3a3a3a" stroke-width="0.85"/>
<line x1="80.20" y1="529.36" x2="81.50" y2="529.36" stroke="#3a3a3a" stroke-width="0.85"/>
<line x1="80.20" y1="525.51" x2="81.50" y2="525.51" stroke="#3a3a3a" stroke-width="0.85"/>
<line x1="80.20" y1="522.17" x2="81.50" y2="522.17" stroke="#3a3a3a" stroke-width="0.85"/>
<line x1="80.20" y1="519.23" x2="81.50" y2="519.23" stroke="#3a3a3a" stroke-width="0.85"/>
<line x1="78.60" y1="631.60" x2="81.50" y2="631.60" stroke="#2a2a2a" stroke-width="1.0"/>
<line x1="80.20" y1="614.29" x2="81.50" y2="614.29" stroke="#3a3a3a" stroke-width="0.85"/>
<line x1="80.20" y1="604.17" x2="81.50" y2="604.17" stroke="#3a3a3a" stroke-width="0.85"/>
<line x1="80.20" y1="596.98" x2="81.50" y2="596.98" stroke="#3a3a3a" stroke-width="0.85"/>
<line x1="80.20" y1="591.41" x2="81.50" y2="591.41" stroke="#3a3a3a" stroke-width="0.85"/>
<line x1="80.20" y1="586.86" x2="81.50" y2="586.86" stroke="#3a3a3a" stroke-width="0.85"/>
<line x1="80.20" y1="583.01" x2="81.50" y2="583.01" stroke="#3a3a3a" stroke-width="0.85"/>
<line x1="80.20" y1="579.67" x2="81.50" y2="579.67" stroke="#3a3a3a" stroke-width="0.85"/>
<line x1="80.20" y1="576.73" x2="81.50" y2="576.73" stroke="#3a3a3a" stroke-width="0.85"/>
<line x1="78.60" y1="689.10" x2="81.50" y2="689.10" stroke="#2a2a2a" stroke-width="1.0"/>
<line x1="80.20" y1="671.79" x2="81.50" y2="671.79" stroke="#3a3a3a" stroke-width="0.85"/>
<line x1="80.20" y1="661.67" x2="81.50" y2="661.67" stroke="#3a3a3a" stroke-width="0.85"/>
<line x1="80.20" y1="654.48" x2="81.50" y2="654.48" stroke="#3a3a3a" stroke-width="0.85"/>
<line x1="80.20" y1="648.91" x2="81.50" y2="648.91" stroke="#3a3a3a" stroke-width="0.85"/>
<line x1="80.20" y1="644.36" x2="81.50" y2="644.36" stroke="#3a3a3a" stroke-width="0.85"/>
<line x1="80.20" y1="640.51" x2="81.50" y2="640.51" stroke="#3a3a3a" stroke-width="0.85"/>
<line x1="80.20" y1="637.17" x2="81.50" y2="637.17" stroke="#3a3a3a" stroke-width="0.85"/>
<line x1="80.20" y1="634.23" x2="81.50" y2="634.23" stroke="#3a3a3a" stroke-width="0.85"/>
<line x1="78.60" y1="746.60" x2="81.50" y2="746.60" stroke="#2a2a2a" stroke-width="1.0"/>
<line x1="80.20" y1="729.29" x2="81.50" y2="729.29" stroke="#3a3a3a" stroke-width="0.85"/>
<line x1="80.20" y1="719.17" x2="81.50" y2="719.17" stroke="#3a3a3a" stroke-width="0.85"/>
<line x1="80.20" y1="711.98" x2="81.50" y2="711.98" stroke="#3a3a3a" stroke-width="0.85"/>
<line x1="80.20" y1="706.41" x2="81.50" y2="706.41" stroke="#3a3a3a" stroke-width="0.85"/>
<line x1="80.20" y1="701.86" x2="81.50" y2="701.86" stroke="#3a3a3a" stroke-width="0.85"/>
<line x1="80.20" y1="698.01" x2="81.50" y2="698.01" stroke="#3a3a3a" stroke-width="0.85"/>
<line x1="80.20" y1="694.67" x2="81.50" y2="694.67" stroke="#3a3a3a" stroke-width="0.85"/>
<line x1="80.20" y1="691.73" x2="81.50" y2="691.73" stroke="#3a3a3a" stroke-width="0.85"/>
<line x1="78.60" y1="804.10" x2="81.50" y2="804.10" stroke="#2a2a2a" stroke-width="1.0"/>
<line x1="80.20" y1="786.79" x2="81.50" y2="786.79" stroke="#3a3a3a" stroke-width="0.85"/>
<line x1="80.20" y1="776.67" x2="81.50" y2="776.67" stroke="#3a3a3a" stroke-width="0.85"/>
<line x1="80.20" y1="769.48" x2="81.50" y2="769.48" stroke="#3a3a3a" stroke-width="0.85"/>
<line x1="80.20" y1="763.91" x2="81.50" y2="763.91" stroke="#3a3a3a" stroke-width="0.85"/>
<line x1="80.20" y1="759.36" x2="81.50" y2="759.36" stroke="#3a3a3a" stroke-width="0.85"/>
<line x1="80.20" y1="755.51" x2="81.50" y2="755.51" stroke="#3a3a3a" stroke-width="0.85"/>
<line x1="80.20" y1="752.17" x2="81.50" y2="752.17" stroke="#3a3a3a" stroke-width="0.85"/>
<line x1="80.20" y1="749.23" x2="81.50" y2="749.23" stroke="#3a3a3a" stroke-width="0.85"/>
<line x1="78.60" y1="861.60" x2="81.50" y2="861.60" stroke="#2a2a2a" stroke-width="1.0"/>
<line x1="80.20" y1="844.29" x2="81.50" y2="844.29" stroke="#3a3a3a" stroke-width="0.85"/>
<line x1="80.20" y1="834.17" x2="81.50" y2="834.17" stroke="#3a3a3a" stroke-width="0.85"/>
<line x1="80.20" y1="826.98" x2="81.50" y2="826.98" stroke="#3a3a3a" stroke-width="0.85"/>
<line x1="80.20" y1="821.41" x2="81.50" y2="821.41" stroke="#3a3a3a" stroke-width="0.85"/>
<line x1="80.20" y1="816.86" x2="81.50" y2="816.86" stroke="#3a3a3a" stroke-width="0.85"/>
<line x1="80.20" y1="813.01" x2="81.50" y2="813.01" stroke="#3a3a3a" stroke-width="0.85"/>
<line x1="80.20" y1="809.67" x2="81.50" y2="809.67" stroke="#3a3a3a" stroke-width="0.85"/>
<line x1="80.20" y1="806.73" x2="81.50" y2="806.73" stroke="#3a3a3a" stroke-width="0.85"/>
<line x1="78.60" y1="919.10" x2="81.50" y2="919.10" stroke="#2a2a2a" stroke-width="1.0"/>
<line x1="80.20" y1="901.79" x2="81.50" y2="901.79" stroke="#3a3a3a" stroke-width="0.85"/>
<line x1="80.20" y1="891.67" x2="81.50" y2="891.67" stroke="#3a3a3a" stroke-width="0.85"/>
<line x1="80.20" y1="884.48" x2="81.50" y2="884.48" stroke="#3a3a3a" stroke-width="0.85"/>
<line x1="80.20" y1="878.91" x2="81.50" y2="878.91" stroke="#3a3a3a" stroke-width="0.85"/>
<line x1="80.20" y1="874.36" x2="81.50" y2="874.36" stroke="#3a3a3a" stroke-width="0.85"/>
<line x1="80.20" y1="870.51" x2="81.50" y2="870.51" stroke="#3a3a3a" stroke-width="0.85"/>
<line x1="80.20" y1="867.17" x2="81.50" y2="867.17" stroke="#3a3a3a" stroke-width="0.85"/>
<line x1="80.20" y1="864.23" x2="81.50" y2="864.23" stroke="#3a3a3a" stroke-width="0.85"/>
<line x1="80.20" y1="959.29" x2="81.50" y2="959.29" stroke="#3a3a3a" stroke-width="0.85"/>
<line x1="80.20" y1="949.17" x2="81.50" y2="949.17" stroke="#3a3a3a" stroke-width="0.85"/>
<line x1="80.20" y1="941.98" x2="81.50" y2="941.98" stroke="#3a3a3a" stroke-width="0.85"/>
<line x1="80.20" y1="936.41" x2="81.50" y2="936.41" stroke="#3a3a3a" stroke-width="0.85"/>
<line x1="80.20" y1="931.86" x2="81.50" y2="931.86" stroke="#3a3a3a" stroke-width="0.85"/>
<line x1="80.20" y1="928.01" x2="81.50" y2="928.01" stroke="#3a3a3a" stroke-width="0.85"/>
<line x1="80.20" y1="924.67" x2="81.50" y2="924.67" stroke="#3a3a3a" stroke-width="0.85"/>
<line x1="80.20" y1="921.73" x2="81.50" y2="921.73" stroke="#3a3a3a" stroke-width="0.85"/>
<line x1="78.80" y1="976.50" x2="569.80" y2="976.50" stroke="#222" stroke-width="1.15"/>
<path transform="translate(33.19,523.20) scale(0.01377,-0.01377)" d="M763 0H583V1147Q518 1085 412.5 1023T223 930V1104Q374 1175 487 1276T647 1472H763Z" fill="#000"/>
<text transform="translate(48.87,523.20) scale(1,1.04)" font-size="28.2" style="font-kerning:none">0</text>
<text transform="translate(64.55,516.34) scale(1,1.04)" font-size="23.1" style="font-kerning:none">8</text>
<path transform="translate(33.19,580.70) scale(0.01377,-0.01377)" d="M763 0H583V1147Q518 1085 412.5 1023T223 930V1104Q374 1175 487 1276T647 1472H763Z" fill="#000"/>
<text transform="translate(48.87,580.70) scale(1,1.04)" font-size="28.2" style="font-kerning:none">0</text>
<text transform="translate(64.55,573.84) scale(1,1.04)" font-size="23.1" style="font-kerning:none">7</text>
<path transform="translate(33.19,638.20) scale(0.01377,-0.01377)" d="M763 0H583V1147Q518 1085 412.5 1023T223 930V1104Q374 1175 487 1276T647 1472H763Z" fill="#000"/>
<text transform="translate(48.87,638.20) scale(1,1.04)" font-size="28.2" style="font-kerning:none">0</text>
<text transform="translate(64.55,631.34) scale(1,1.04)" font-size="23.1" style="font-kerning:none">6</text>
<path transform="translate(33.19,695.70) scale(0.01377,-0.01377)" d="M763 0H583V1147Q518 1085 412.5 1023T223 930V1104Q374 1175 487 1276T647 1472H763Z" fill="#000"/>
<text transform="translate(48.87,695.70) scale(1,1.04)" font-size="28.2" style="font-kerning:none">0</text>
<text transform="translate(64.55,688.84) scale(1,1.04)" font-size="23.1" style="font-kerning:none">5</text>
<path transform="translate(33.19,753.20) scale(0.01377,-0.01377)" d="M763 0H583V1147Q518 1085 412.5 1023T223 930V1104Q374 1175 487 1276T647 1472H763Z" fill="#000"/>
<text transform="translate(48.87,753.20) scale(1,1.04)" font-size="28.2" style="font-kerning:none">0</text>
<text transform="translate(64.55,746.34) scale(1,1.04)" font-size="23.1" style="font-kerning:none">4</text>
<path transform="translate(33.19,810.70) scale(0.01377,-0.01377)" d="M763 0H583V1147Q518 1085 412.5 1023T223 930V1104Q374 1175 487 1276T647 1472H763Z" fill="#000"/>
<text transform="translate(48.87,810.70) scale(1,1.04)" font-size="28.2" style="font-kerning:none">0</text>
<text transform="translate(64.55,803.84) scale(1,1.04)" font-size="23.1" style="font-kerning:none">3</text>
<path transform="translate(33.19,868.20) scale(0.01377,-0.01377)" d="M763 0H583V1147Q518 1085 412.5 1023T223 930V1104Q374 1175 487 1276T647 1472H763Z" fill="#000"/>
<text transform="translate(48.87,868.20) scale(1,1.04)" font-size="28.2" style="font-kerning:none">0</text>
<text transform="translate(64.55,861.34) scale(1,1.04)" font-size="23.1" style="font-kerning:none">2</text>
<path transform="translate(33.19,925.70) scale(0.01377,-0.01377)" d="M763 0H583V1147Q518 1085 412.5 1023T223 930V1104Q374 1175 487 1276T647 1472H763Z" fill="#000"/>
<text transform="translate(48.87,925.70) scale(1,1.04)" font-size="28.2" style="font-kerning:none">0</text>
<path transform="translate(64.55,918.84) scale(0.01128,-0.01128)" d="M763 0H583V1147Q518 1085 412.5 1023T223 930V1104Q374 1175 487 1276T647 1472H763Z" fill="#000"/>
<text transform="translate(78.70,978.40) scale(1,1.0)" font-size="28.2" text-anchor="end" >n.d.</text>
<text transform="translate(24.1,906.0) rotate(-90)" font-size="27.2" textLength="283.8" lengthAdjust="spacing">Neutralizing titer (1/ID<tspan font-size="20.5" dy="5.5">50</tspan><tspan dy="-5.5">)</tspan></text>
<rect x="88.60" y="792.40" width="27.00" height="57.60" fill="none" stroke="#111" stroke-width="1.1"/>
<line x1="88.60" y1="831.90" x2="115.60" y2="831.90" stroke="#111" stroke-width="1.1"/>
<line x1="102.40" y1="780.20" x2="102.40" y2="792.40" stroke="#111" stroke-width="1.1"/>
<line x1="102.40" y1="850.00" x2="102.40" y2="935.80" stroke="#111" stroke-width="1.1"/>
<line x1="95.20" y1="780.20" x2="109.60" y2="780.20" stroke="#111" stroke-width="1.1"/>
<line x1="95.20" y1="935.80" x2="109.60" y2="935.80" stroke="#111" stroke-width="1.1"/>
<rect x="129.10" y="930.40" width="27.50" height="46.20" fill="none" stroke="#111" stroke-width="1.1"/>
<line x1="129.10" y1="949.00" x2="156.60" y2="949.00" stroke="#111" stroke-width="1.1"/>
<line x1="142.50" y1="884.60" x2="142.50" y2="930.40" stroke="#111" stroke-width="1.1"/>
<line x1="135.30" y1="884.60" x2="149.70" y2="884.60" stroke="#111" stroke-width="1.1"/>
<line x1="102.40" y1="780.20" x2="142.50" y2="935.90" stroke="#111" stroke-width="1.05"/>
<line x1="102.40" y1="780.20" x2="142.50" y2="976.40" stroke="#111" stroke-width="1.05"/>
<line x1="102.40" y1="797.40" x2="142.50" y2="976.40" stroke="#111" stroke-width="1.05"/>
<line x1="102.40" y1="797.40" x2="142.50" y2="935.90" stroke="#111" stroke-width="1.05"/>
<line x1="102.40" y1="814.60" x2="142.50" y2="976.40" stroke="#111" stroke-width="1.05"/>
<line x1="102.40" y1="814.60" x2="142.50" y2="918.80" stroke="#111" stroke-width="1.05"/>
<line x1="102.40" y1="831.90" x2="142.50" y2="976.40" stroke="#111" stroke-width="1.05"/>
<line x1="102.40" y1="831.90" x2="142.50" y2="935.90" stroke="#111" stroke-width="1.05"/>
<line x1="102.40" y1="831.90" x2="142.50" y2="901.60" stroke="#111" stroke-width="1.05"/>
<line x1="102.40" y1="849.10" x2="142.50" y2="884.60" stroke="#111" stroke-width="1.05"/>
<line x1="102.40" y1="849.10" x2="142.50" y2="976.40" stroke="#111" stroke-width="1.05"/>
<line x1="102.40" y1="849.10" x2="142.50" y2="935.90" stroke="#111" stroke-width="1.05"/>
<line x1="102.40" y1="866.40" x2="142.50" y2="976.40" stroke="#111" stroke-width="1.05"/>
<line x1="102.40" y1="866.40" x2="142.50" y2="918.80" stroke="#111" stroke-width="1.05"/>
<line x1="102.40" y1="884.00" x2="142.50" y2="976.40" stroke="#111" stroke-width="1.05"/>
<line x1="102.40" y1="884.00" x2="142.50" y2="935.90" stroke="#111" stroke-width="1.05"/>
<line x1="102.40" y1="935.80" x2="142.50" y2="901.60" stroke="#111" stroke-width="1.05"/>
<line x1="102.40" y1="814.60" x2="142.50" y2="935.90" stroke="#111" stroke-width="1.05"/>
<line x1="102.40" y1="866.40" x2="142.50" y2="935.90" stroke="#111" stroke-width="1.05"/>
<circle cx="102.40" cy="780.20" r="6.45" fill="#000"/>
<circle cx="102.40" cy="797.40" r="6.45" fill="#000"/>
<circle cx="102.40" cy="814.60" r="6.45" fill="#000"/>
<circle cx="102.40" cy="831.90" r="6.45" fill="#000"/>
<circle cx="102.40" cy="849.10" r="6.45" fill="#000"/>
<circle cx="102.40" cy="866.40" r="6.45" fill="#000"/>
<circle cx="102.40" cy="884.00" r="6.45" fill="#000"/>
<circle cx="102.40" cy="935.80" r="6.45" fill="#000"/>
<circle cx="142.50" cy="884.60" r="6.15" fill="none" stroke="#000" stroke-width="1.2"/>
<circle cx="142.50" cy="901.60" r="6.15" fill="none" stroke="#000" stroke-width="1.2"/>
<circle cx="142.50" cy="918.80" r="6.15" fill="none" stroke="#000" stroke-width="1.2"/>
<circle cx="142.50" cy="935.90" r="6.15" fill="none" stroke="#000" stroke-width="1.2"/>
<circle cx="142.50" cy="976.40" r="6.15" fill="none" stroke="#000" stroke-width="1.2"/>
<rect x="169.60" y="729.80" width="27.30" height="33.00" fill="none" stroke="#111" stroke-width="1.1"/>
<line x1="169.60" y1="746.60" x2="196.90" y2="746.60" stroke="#111" stroke-width="1.1"/>
<line x1="183.40" y1="711.30" x2="183.40" y2="729.80" stroke="#111" stroke-width="1.1"/>
<line x1="183.40" y1="762.80" x2="183.40" y2="832.20" stroke="#111" stroke-width="1.1"/>
<line x1="176.20" y1="711.30" x2="190.60" y2="711.30" stroke="#111" stroke-width="1.1"/>
<line x1="176.20" y1="832.20" x2="190.60" y2="832.20" stroke="#111" stroke-width="1.1"/>
<rect x="210.70" y="798.20" width="26.70" height="51.00" fill="none" stroke="#111" stroke-width="1.1"/>
<line x1="210.70" y1="832.20" x2="237.40" y2="832.20" stroke="#111" stroke-width="1.1"/>
<line x1="224.20" y1="746.20" x2="224.20" y2="798.20" stroke="#111" stroke-width="1.1"/>
<line x1="224.20" y1="849.20" x2="224.20" y2="866.20" stroke="#111" stroke-width="1.1"/>
<line x1="217.00" y1="746.20" x2="231.40" y2="746.20" stroke="#111" stroke-width="1.1"/>
<line x1="217.00" y1="866.20" x2="231.40" y2="866.20" stroke="#111" stroke-width="1.1"/>
<line x1="183.40" y1="711.30" x2="224.20" y2="832.20" stroke="#111" stroke-width="1.05"/>
<line x1="183.40" y1="728.50" x2="224.20" y2="780.60" stroke="#111" stroke-width="1.05"/>
<line x1="183.40" y1="728.50" x2="224.20" y2="797.80" stroke="#111" stroke-width="1.05"/>
<line x1="183.40" y1="728.50" x2="224.20" y2="832.20" stroke="#111" stroke-width="1.05"/>
<line x1="183.40" y1="745.70" x2="224.20" y2="746.20" stroke="#111" stroke-width="1.05"/>
<line x1="183.40" y1="745.70" x2="224.20" y2="797.80" stroke="#111" stroke-width="1.05"/>
<line x1="183.40" y1="745.70" x2="224.20" y2="815.00" stroke="#111" stroke-width="1.05"/>
<line x1="183.40" y1="745.70" x2="224.20" y2="832.20" stroke="#111" stroke-width="1.05"/>
<line x1="183.40" y1="745.70" x2="224.20" y2="849.00" stroke="#111" stroke-width="1.05"/>
<line x1="183.40" y1="762.90" x2="224.20" y2="815.00" stroke="#111" stroke-width="1.05"/>
<line x1="183.40" y1="762.90" x2="224.20" y2="832.20" stroke="#111" stroke-width="1.05"/>
<line x1="183.40" y1="762.90" x2="224.20" y2="849.00" stroke="#111" stroke-width="1.05"/>
<line x1="183.40" y1="762.90" x2="224.20" y2="866.20" stroke="#111" stroke-width="1.05"/>
<line x1="183.40" y1="780.10" x2="224.20" y2="832.20" stroke="#111" stroke-width="1.05"/>
<line x1="183.40" y1="780.10" x2="224.20" y2="849.00" stroke="#111" stroke-width="1.05"/>
<line x1="183.40" y1="780.10" x2="224.20" y2="866.20" stroke="#111" stroke-width="1.05"/>
<line x1="183.40" y1="815.00" x2="224.20" y2="849.00" stroke="#111" stroke-width="1.05"/>
<line x1="183.40" y1="832.20" x2="224.20" y2="866.20" stroke="#111" stroke-width="1.05"/>
<line x1="183.40" y1="728.50" x2="224.20" y2="815.00" stroke="#111" stroke-width="1.05"/>
<line x1="183.40" y1="762.90" x2="224.20" y2="797.80" stroke="#111" stroke-width="1.05"/>
<circle cx="183.40" cy="711.30" r="6.45" fill="#000"/>
<circle cx="183.40" cy="728.50" r="6.45" fill="#000"/>
<circle cx="183.40" cy="745.70" r="6.45" fill="#000"/>
<circle cx="183.40" cy="762.90" r="6.45" fill="#000"/>
<circle cx="183.40" cy="780.10" r="6.45" fill="#000"/>
<circle cx="183.40" cy="815.00" r="6.45" fill="#000"/>
<circle cx="183.40" cy="832.20" r="6.45" fill="#000"/>
<circle cx="224.20" cy="746.20" r="6.15" fill="none" stroke="#000" stroke-width="1.2"/>
<circle cx="224.20" cy="780.60" r="6.15" fill="none" stroke="#000" stroke-width="1.2"/>
<circle cx="224.20" cy="797.80" r="6.15" fill="none" stroke="#000" stroke-width="1.2"/>
<circle cx="224.20" cy="815.00" r="6.15" fill="none" stroke="#000" stroke-width="1.2"/>
<circle cx="224.20" cy="832.20" r="6.15" fill="none" stroke="#000" stroke-width="1.2"/>
<circle cx="224.20" cy="849.00" r="6.15" fill="none" stroke="#000" stroke-width="1.2"/>
<circle cx="224.20" cy="866.20" r="6.15" fill="none" stroke="#000" stroke-width="1.2"/>
<rect x="250.70" y="559.80" width="27.30" height="34.40" fill="none" stroke="#111" stroke-width="1.1"/>
<line x1="250.70" y1="580.30" x2="278.00" y2="580.30" stroke="#111" stroke-width="1.1"/>
<line x1="264.70" y1="538.20" x2="264.70" y2="559.80" stroke="#111" stroke-width="1.1"/>
<line x1="264.70" y1="594.20" x2="264.70" y2="610.00" stroke="#111" stroke-width="1.1"/>
<line x1="257.50" y1="538.20" x2="271.90" y2="538.20" stroke="#111" stroke-width="1.1"/>
<line x1="257.50" y1="610.00" x2="271.90" y2="610.00" stroke="#111" stroke-width="1.1"/>
<rect x="291.60" y="679.40" width="26.90" height="25.90" fill="none" stroke="#111" stroke-width="1.1"/>
<line x1="291.60" y1="694.20" x2="318.50" y2="694.20" stroke="#111" stroke-width="1.1"/>
<line x1="305.10" y1="674.40" x2="305.10" y2="679.40" stroke="#111" stroke-width="1.1"/>
<line x1="305.10" y1="705.30" x2="305.10" y2="705.70" stroke="#111" stroke-width="1.1"/>
<line x1="297.90" y1="674.40" x2="312.30" y2="674.40" stroke="#111" stroke-width="1.1"/>
<line x1="297.90" y1="705.70" x2="312.30" y2="705.70" stroke="#111" stroke-width="1.1"/>
<line x1="264.70" y1="538.20" x2="305.10" y2="690.60" stroke="#111" stroke-width="1.05"/>
<line x1="264.70" y1="573.60" x2="305.10" y2="674.40" stroke="#111" stroke-width="1.05"/>
<line x1="264.70" y1="585.70" x2="305.10" y2="679.00" stroke="#111" stroke-width="1.05"/>
<line x1="264.70" y1="589.80" x2="305.10" y2="695.60" stroke="#111" stroke-width="1.05"/>
<line x1="264.70" y1="610.00" x2="305.10" y2="705.70" stroke="#111" stroke-width="1.05"/>
<line x1="264.70" y1="585.70" x2="305.10" y2="690.60" stroke="#111" stroke-width="1.05"/>
<circle cx="264.70" cy="538.20" r="6.45" fill="#000"/>
<circle cx="264.70" cy="573.60" r="6.45" fill="#000"/>
<circle cx="264.70" cy="585.70" r="6.45" fill="#000"/>
<circle cx="264.70" cy="589.80" r="6.45" fill="#000"/>
<circle cx="264.70" cy="610.00" r="6.45" fill="#000"/>
<circle cx="305.10" cy="674.40" r="6.15" fill="none" stroke="#000" stroke-width="1.2"/>
<circle cx="305.10" cy="679.00" r="6.15" fill="none" stroke="#000" stroke-width="1.2"/>
<circle cx="305.10" cy="690.60" r="6.15" fill="none" stroke="#000" stroke-width="1.2"/>
<circle cx="305.10" cy="695.60" r="6.15" fill="none" stroke="#000" stroke-width="1.2"/>
<circle cx="305.10" cy="705.70" r="6.15" fill="none" stroke="#000" stroke-width="1.2"/>
<rect x="332.00" y="565.10" width="27.30" height="105.60" fill="none" stroke="#111" stroke-width="1.1"/>
<line x1="332.00" y1="581.30" x2="359.30" y2="581.30" stroke="#111" stroke-width="1.1"/>
<line x1="345.60" y1="554.00" x2="345.60" y2="565.10" stroke="#111" stroke-width="1.1"/>
<line x1="345.60" y1="670.70" x2="345.60" y2="670.70" stroke="#111" stroke-width="1.1"/>
<line x1="338.40" y1="554.00" x2="352.80" y2="554.00" stroke="#111" stroke-width="1.1"/>
<line x1="338.40" y1="670.70" x2="352.80" y2="670.70" stroke="#111" stroke-width="1.1"/>
<rect x="372.50" y="687.10" width="27.20" height="45.50" fill="none" stroke="#111" stroke-width="1.1"/>
<line x1="372.50" y1="726.40" x2="399.70" y2="726.40" stroke="#111" stroke-width="1.1"/>
<line x1="386.10" y1="670.30" x2="386.10" y2="687.10" stroke="#111" stroke-width="1.1"/>
<line x1="386.10" y1="732.60" x2="386.10" y2="747.20" stroke="#111" stroke-width="1.1"/>
<line x1="378.90" y1="670.30" x2="393.30" y2="670.30" stroke="#111" stroke-width="1.1"/>
<line x1="378.90" y1="747.20" x2="393.30" y2="747.20" stroke="#111" stroke-width="1.1"/>
<line x1="345.60" y1="554.00" x2="386.10" y2="725.00" stroke="#111" stroke-width="1.05"/>
<line x1="345.60" y1="569.60" x2="386.10" y2="670.30" stroke="#111" stroke-width="1.05"/>
<line x1="345.60" y1="573.00" x2="386.10" y2="730.00" stroke="#111" stroke-width="1.05"/>
<line x1="345.60" y1="593.20" x2="386.10" y2="747.20" stroke="#111" stroke-width="1.05"/>
<line x1="345.60" y1="670.70" x2="386.10" y2="696.20" stroke="#111" stroke-width="1.05"/>
<line x1="345.60" y1="670.70" x2="386.10" y2="725.00" stroke="#111" stroke-width="1.05"/>
<line x1="345.60" y1="670.70" x2="386.10" y2="730.00" stroke="#111" stroke-width="1.05"/>
<line x1="345.60" y1="593.20" x2="386.10" y2="730.00" stroke="#111" stroke-width="1.05"/>
<circle cx="345.60" cy="554.00" r="6.45" fill="#000"/>
<circle cx="345.60" cy="569.60" r="6.45" fill="#000"/>
<circle cx="345.60" cy="573.00" r="6.45" fill="#000"/>
<circle cx="345.60" cy="593.20" r="6.45" fill="#000"/>
<circle cx="345.60" cy="670.70" r="6.45" fill="#000"/>
<circle cx="386.10" cy="670.30" r="6.15" fill="none" stroke="#000" stroke-width="1.2"/>
<circle cx="386.10" cy="696.20" r="6.15" fill="none" stroke="#000" stroke-width="1.2"/>
<circle cx="386.10" cy="725.00" r="6.15" fill="none" stroke="#000" stroke-width="1.2"/>
<circle cx="386.10" cy="730.00" r="6.15" fill="none" stroke="#000" stroke-width="1.2"/>
<circle cx="386.10" cy="747.20" r="6.15" fill="none" stroke="#000" stroke-width="1.2"/>
<rect x="413.20" y="643.30" width="27.30" height="100.00" fill="none" stroke="#111" stroke-width="1.1"/>
<line x1="413.20" y1="715.50" x2="440.50" y2="715.50" stroke="#111" stroke-width="1.1"/>
<line x1="426.90" y1="634.60" x2="426.90" y2="643.30" stroke="#111" stroke-width="1.1"/>
<line x1="426.90" y1="743.30" x2="426.90" y2="744.60" stroke="#111" stroke-width="1.1"/>
<line x1="419.70" y1="634.60" x2="434.10" y2="634.60" stroke="#111" stroke-width="1.1"/>
<line x1="419.70" y1="744.60" x2="434.10" y2="744.60" stroke="#111" stroke-width="1.1"/>
<rect x="453.70" y="781.50" width="27.30" height="38.40" fill="none" stroke="#111" stroke-width="1.1"/>
<line x1="453.70" y1="808.60" x2="481.00" y2="808.60" stroke="#111" stroke-width="1.1"/>
<line x1="467.40" y1="777.40" x2="467.40" y2="781.50" stroke="#111" stroke-width="1.1"/>
<line x1="467.40" y1="819.90" x2="467.40" y2="844.10" stroke="#111" stroke-width="1.1"/>
<line x1="460.20" y1="777.40" x2="474.60" y2="777.40" stroke="#111" stroke-width="1.1"/>
<line x1="460.20" y1="844.10" x2="474.60" y2="844.10" stroke="#111" stroke-width="1.1"/>
<line x1="426.90" y1="634.60" x2="467.40" y2="781.50" stroke="#111" stroke-width="1.05"/>
<line x1="426.90" y1="646.50" x2="467.40" y2="802.00" stroke="#111" stroke-width="1.05"/>
<line x1="426.90" y1="646.50" x2="467.40" y2="814.90" stroke="#111" stroke-width="1.05"/>
<line x1="426.90" y1="702.60" x2="467.40" y2="814.90" stroke="#111" stroke-width="1.05"/>
<line x1="426.90" y1="742.20" x2="467.40" y2="777.40" stroke="#111" stroke-width="1.05"/>
<line x1="426.90" y1="742.20" x2="467.40" y2="802.00" stroke="#111" stroke-width="1.05"/>
<line x1="426.90" y1="744.60" x2="467.40" y2="844.10" stroke="#111" stroke-width="1.05"/>
<line x1="426.90" y1="744.60" x2="467.40" y2="814.90" stroke="#111" stroke-width="1.05"/>
<circle cx="426.90" cy="634.60" r="6.45" fill="#000"/>
<circle cx="426.90" cy="646.50" r="6.45" fill="#000"/>
<circle cx="426.90" cy="702.60" r="6.45" fill="#000"/>
<circle cx="426.90" cy="742.20" r="6.45" fill="#000"/>
<circle cx="426.90" cy="744.60" r="6.45" fill="#000"/>
<circle cx="467.40" cy="777.40" r="6.15" fill="none" stroke="#000" stroke-width="1.2"/>
<circle cx="467.40" cy="781.50" r="6.15" fill="none" stroke="#000" stroke-width="1.2"/>
<circle cx="467.40" cy="802.00" r="6.15" fill="none" stroke="#000" stroke-width="1.2"/>
<circle cx="467.40" cy="814.90" r="6.15" fill="none" stroke="#000" stroke-width="1.2"/>
<circle cx="467.40" cy="844.10" r="6.15" fill="none" stroke="#000" stroke-width="1.2"/>
<rect x="494.70" y="738.20" width="26.80" height="44.90" fill="none" stroke="#111" stroke-width="1.1"/>
<line x1="494.70" y1="751.20" x2="521.50" y2="751.20" stroke="#111" stroke-width="1.1"/>
<line x1="507.90" y1="722.10" x2="507.90" y2="738.20" stroke="#111" stroke-width="1.1"/>
<line x1="507.90" y1="783.10" x2="507.90" y2="813.10" stroke="#111" stroke-width="1.1"/>
<line x1="500.70" y1="722.10" x2="515.10" y2="722.10" stroke="#111" stroke-width="1.1"/>
<line x1="500.70" y1="813.10" x2="515.10" y2="813.10" stroke="#111" stroke-width="1.1"/>
<rect x="535.00" y="805.40" width="27.30" height="39.10" fill="none" stroke="#111" stroke-width="1.1"/>
<line x1="535.00" y1="827.40" x2="562.30" y2="827.40" stroke="#111" stroke-width="1.1"/>
<line x1="548.60" y1="786.50" x2="548.60" y2="805.40" stroke="#111" stroke-width="1.1"/>
<line x1="548.60" y1="844.50" x2="548.60" y2="862.30" stroke="#111" stroke-width="1.1"/>
<line x1="541.40" y1="786.50" x2="555.80" y2="786.50" stroke="#111" stroke-width="1.1"/>
<line x1="541.40" y1="862.30" x2="555.80" y2="862.30" stroke="#111" stroke-width="1.1"/>
<line x1="507.90" y1="722.10" x2="548.60" y2="786.50" stroke="#111" stroke-width="1.05"/>
<line x1="507.90" y1="746.70" x2="548.60" y2="816.10" stroke="#111" stroke-width="1.05"/>
<line x1="507.90" y1="751.90" x2="548.60" y2="827.40" stroke="#111" stroke-width="1.05"/>
<line x1="507.90" y1="777.40" x2="548.60" y2="862.30" stroke="#111" stroke-width="1.05"/>
<line x1="507.90" y1="813.10" x2="548.60" y2="840.00" stroke="#111" stroke-width="1.05"/>
<line x1="507.90" y1="751.90" x2="548.60" y2="816.10" stroke="#111" stroke-width="1.05"/>
<circle cx="507.90" cy="722.10" r="6.45" fill="#000"/>
<circle cx="507.90" cy="746.70" r="6.45" fill="#000"/>
<circle cx="507.90" cy="751.90" r="6.45" fill="#000"/>
<circle cx="507.90" cy="777.40" r="6.45" fill="#000"/>
<circle cx="507.90" cy="813.10" r="6.45" fill="#000"/>
<circle cx="548.60" cy="786.50" r="6.15" fill="none" stroke="#000" stroke-width="1.2"/>
<circle cx="548.60" cy="816.10" r="6.15" fill="none" stroke="#000" stroke-width="1.2"/>
<circle cx="548.60" cy="827.40" r="6.15" fill="none" stroke="#000" stroke-width="1.2"/>
<circle cx="548.60" cy="840.00" r="6.15" fill="none" stroke="#000" stroke-width="1.2"/>
<circle cx="548.60" cy="862.30" r="6.15" fill="none" stroke="#000" stroke-width="1.2"/>
<line x1="257.90" y1="725.50" x2="344.80" y2="725.50" stroke="#111" stroke-width="1.2"/>
<line x1="257.90" y1="721.10" x2="257.90" y2="729.90" stroke="#111" stroke-width="1.2"/>
<line x1="344.80" y1="721.10" x2="344.80" y2="729.90" stroke="#111" stroke-width="1.2"/>
<text transform="translate(310.80,746.00) scale(1,1.0)" font-size="27.2" text-anchor="middle" >n.s.</text>
<line x1="346.60" y1="763.00" x2="426.40" y2="763.00" stroke="#111" stroke-width="1.2"/>
<line x1="346.60" y1="758.70" x2="346.60" y2="767.30" stroke="#111" stroke-width="1.2"/>
<line x1="426.40" y1="758.70" x2="426.40" y2="767.30" stroke="#111" stroke-width="1.2"/>
<text x="385.70" y="784.80" font-size="21.8" text-anchor="middle" stroke="#000" stroke-width="0.55">*</text>
<line x1="427.60" y1="613.70" x2="509.50" y2="613.70" stroke="#111" stroke-width="1.2"/>
<line x1="427.60" y1="609.20" x2="427.60" y2="618.20" stroke="#111" stroke-width="1.2"/>
<line x1="509.50" y1="609.20" x2="509.50" y2="618.20" stroke="#111" stroke-width="1.2"/>
<text x="468.00" y="618.00" font-size="21.8" text-anchor="middle" stroke="#000" stroke-width="0.55">*</text>
<circle cx="371.30" cy="915.80" r="6.2" fill="#000"/>
<text transform="translate(382.80,924.20) scale(1,1.03)" font-size="27.9" text-anchor="start" >Epithelial cells</text>
<circle cx="371.30" cy="945.20" r="5.8" fill="none" stroke="#000" stroke-width="1.2"/>
<text transform="translate(382.80,954.40) scale(1,1.03)" font-size="27.5" text-anchor="start" >Fibroblasts</text>
<path transform="translate(108.16,1005.00) scale(0.01377,-0.01377)" d="M763 0H583V1147Q518 1085 412.5 1023T223 930V1104Q374 1175 487 1276T647 1472H763Z" fill="#000"/>
<path transform="translate(183.02,1005.00) scale(0.01377,-0.01377)" d="M763 0H583V1147Q518 1085 412.5 1023T223 930V1104Q374 1175 487 1276T647 1472H763Z" fill="#000"/>
<text transform="translate(198.70,1005.00) scale(1,1.04)" font-size="28.2" style="font-kerning:none">-2</text>
<text transform="translate(275.56,1005.00) scale(1,1.04)" font-size="28.2" style="font-kerning:none">5</text>
<text transform="translate(346.40,1005.00) scale(1,1.04)" font-size="28.2" style="font-kerning:none">2.5</text>
<path transform="translate(441.76,1005.00) scale(0.01377,-0.01377)" d="M763 0H583V1147Q518 1085 412.5 1023T223 930V1104Q374 1175 487 1276T647 1472H763Z" fill="#000"/>
<text transform="translate(509.20,1005.00) scale(1,1.04)" font-size="28.2" style="font-kerning:none">0.2</text>
<text transform="translate(81.90,1033.60) scale(1,1.0)" font-size="27.2" text-anchor="start" textLength="73.8" lengthAdjust="spacing">month</text>
<text transform="translate(176.20,1033.60) scale(1,1.0)" font-size="27.2" text-anchor="start" textLength="63.4" lengthAdjust="spacing">years</text>
<text transform="translate(415.20,1031.00) scale(1,1.03)" font-size="27.6" text-anchor="middle" >Pentamer (µg)</text>
<line x1="84.60" y1="1041.10" x2="239.90" y2="1041.10" stroke="#3a3a3a" stroke-width="1.3"/>
<line x1="264.90" y1="1041.40" x2="565.50" y2="1041.40" stroke="#2a2a2a" stroke-width="1.2"/>
<text transform="translate(165.00,1071.90) scale(1,1.03)" font-size="27.6" text-anchor="middle" >Human sera</text>
<text transform="translate(414.60,1072.60) scale(1,1.03)" font-size="27.35" text-anchor="middle" >Mouse sera</text>
</g>
</svg></body></html>
